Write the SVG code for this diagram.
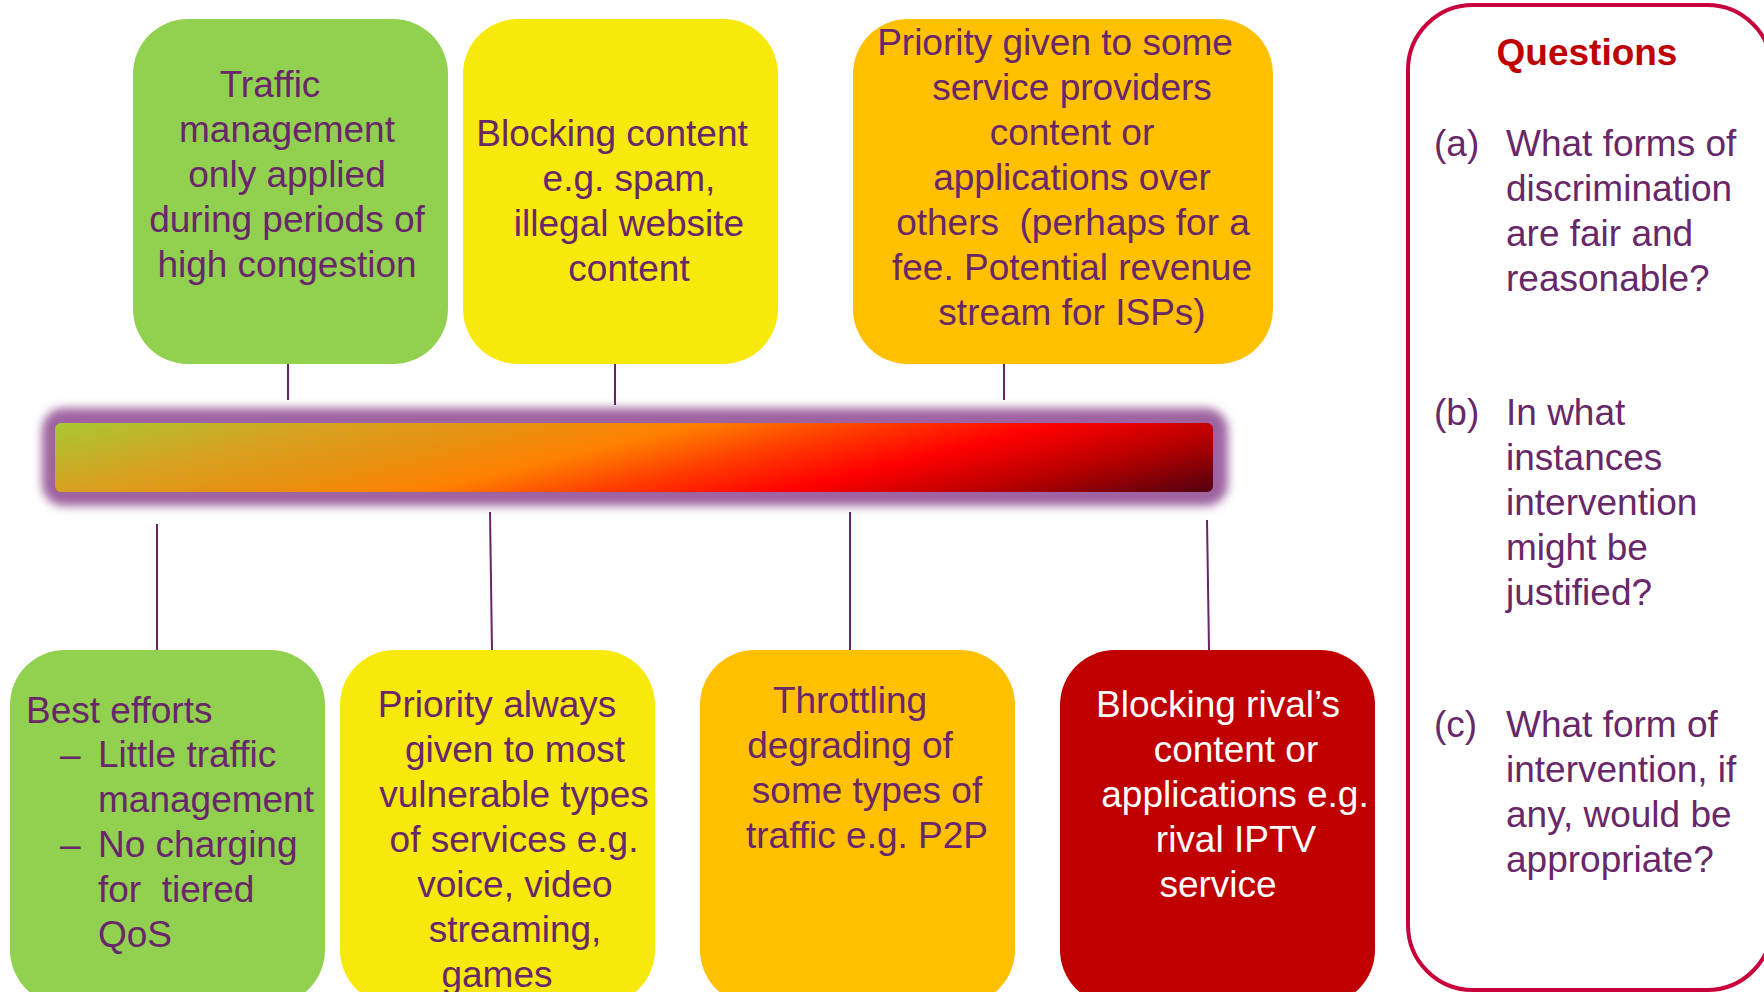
<svg xmlns="http://www.w3.org/2000/svg" width="1764" height="992" viewBox="0 0 1764 992">
<style>
.t{font-family:"Liberation Sans",Arial,sans-serif;font-size:37px;fill:#682769}
.c{text-anchor:middle}
.w{fill:#ffffff}
.q{font-family:"Liberation Sans",Arial,sans-serif;font-size:37px;font-weight:bold;fill:#c00000;text-anchor:middle}
.ln{stroke:#6a2466;stroke-width:2;fill:none}
</style>
<defs>
<filter id="blur" x="-5%" y="-30%" width="110%" height="160%"><feGaussianBlur stdDeviation="5"/></filter>
<linearGradient id="bar" gradientUnits="userSpaceOnUse" x1="55" y1="423" x2="137" y2="757">
<stop offset="0" stop-color="#a8c832"/>
<stop offset="0.2" stop-color="#d8a020"/>
<stop offset="0.33" stop-color="#e89010"/>
<stop offset="0.45" stop-color="#ff8000"/>
<stop offset="0.58" stop-color="#ff3800"/>
<stop offset="0.7" stop-color="#ff0000"/>
<stop offset="0.85" stop-color="#b00000"/>
<stop offset="1" stop-color="#500010"/>
</linearGradient>
</defs>
<rect width="1764" height="992" fill="#ffffff"/>

<g id="bar-scale">
<rect x="42" y="408" width="1186" height="98" rx="22" fill="#9e64a0" filter="url(#blur)"/>
<rect x="55" y="423" width="1158" height="69" rx="6" fill="url(#bar)"/>
</g>

<g id="connectors">
<line class="ln" x1="288" y1="363" x2="288" y2="400"/>
<line class="ln" x1="615" y1="363" x2="615" y2="405"/>
<line class="ln" x1="1004" y1="363" x2="1004" y2="400"/>
<line class="ln" x1="157" y1="524" x2="157" y2="650"/>
<line class="ln" x1="490" y1="512" x2="492" y2="650"/>
<line class="ln" x1="850" y1="512" x2="850" y2="650"/>
<line class="ln" x1="1207" y1="520" x2="1209" y2="650"/>
</g>

<g id="top-traffic-management">
<rect x="133" y="19" width="315" height="345" rx="55" fill="#92d050"/>
<text class="t c" x="270" y="97">Traffic</text>
<text class="t c" x="287" y="142">management</text>
<text class="t c" x="287" y="187">only applied</text>
<text class="t c" x="287" y="232">during periods of</text>
<text class="t c" x="287" y="277">high congestion</text>
</g>

<g id="top-blocking-content">
<rect x="463" y="19" width="315" height="345" rx="55" fill="#f6e90b"/>
<text class="t c" x="612" y="146">Blocking content</text>
<text class="t c" x="629" y="191">e.g. spam,</text>
<text class="t c" x="629" y="236">illegal website</text>
<text class="t c" x="629" y="281">content</text>
</g>

<g id="top-priority-some">
<rect x="853" y="19" width="420" height="345" rx="55" fill="#ffc000"/>
<text class="t c" x="1055" y="55">Priority given to some</text>
<text class="t c" x="1072" y="100">service providers</text>
<text class="t c" x="1072" y="145">content or</text>
<text class="t c" x="1072" y="190">applications over</text>
<text class="t c" x="1073" y="235" style="white-space:pre">others  (perhaps for a</text>
<text class="t c" x="1072" y="280">fee. Potential revenue</text>
<text class="t c" x="1072" y="325">stream for ISPs)</text>
</g>

<g id="bottom-best-efforts">
<rect x="10" y="650" width="315" height="355" rx="55" fill="#92d050"/>
<text class="t" x="26" y="723">Best efforts</text>
<text class="t" x="60" y="767">–</text>
<text class="t" x="98" y="767">Little traffic</text>
<text class="t" x="98" y="812">management</text>
<text class="t" x="60" y="857">–</text>
<text class="t" x="98" y="857">No charging</text>
<text class="t" x="98" y="902" style="white-space:pre">for  tiered</text>
<text class="t" x="98" y="947">QoS</text>
</g>

<g id="bottom-priority-always">
<rect x="340" y="650" width="315" height="355" rx="55" fill="#f6e90b"/>
<text class="t c" x="497" y="717">Priority always</text>
<text class="t c" x="515" y="762">given to most</text>
<text class="t c" x="514" y="807">vulnerable types</text>
<text class="t c" x="514" y="852">of services e.g.</text>
<text class="t c" x="515" y="897">voice, video</text>
<text class="t c" x="515" y="942">streaming,</text>
<text class="t c" x="497" y="987">games</text>
</g>

<g id="bottom-throttling">
<rect x="700" y="650" width="315" height="355" rx="55" fill="#ffc000"/>
<text class="t c" x="850" y="713">Throttling</text>
<text class="t c" x="850" y="758">degrading of</text>
<text class="t c" x="867" y="803">some types of</text>
<text class="t c" x="867" y="848">traffic e.g. P2P</text>
</g>

<g id="bottom-blocking-rival">
<rect x="1060" y="650" width="315" height="355" rx="55" fill="#c00000"/>
<text class="t c w" x="1218" y="717">Blocking rival’s</text>
<text class="t c w" x="1236" y="762">content or</text>
<text class="t c w" x="1235" y="807">applications e.g.</text>
<text class="t c w" x="1236" y="852">rival IPTV</text>
<text class="t c w" x="1218" y="897">service</text>
</g>

<g id="questions">
<rect x="1408" y="5" width="364" height="985" rx="65" fill="#ffffff" stroke="#c8003c" stroke-width="4"/>
<text class="q" x="1587" y="65">Questions</text>
<text class="t" x="1434" y="156">(a)</text>
<text class="t" x="1506" y="156">What forms of</text>
<text class="t" x="1506" y="201">discrimination</text>
<text class="t" x="1506" y="246">are fair and</text>
<text class="t" x="1506" y="291">reasonable?</text>
<text class="t" x="1434" y="425">(b)</text>
<text class="t" x="1506" y="425">In what</text>
<text class="t" x="1506" y="470">instances</text>
<text class="t" x="1506" y="515">intervention</text>
<text class="t" x="1506" y="560">might be</text>
<text class="t" x="1506" y="605">justified?</text>
<text class="t" x="1434" y="737">(c)</text>
<text class="t" x="1506" y="737">What form of</text>
<text class="t" x="1506" y="782">intervention, if</text>
<text class="t" x="1506" y="827">any, would be</text>
<text class="t" x="1506" y="872">appropriate?</text>
</g>
</svg>
